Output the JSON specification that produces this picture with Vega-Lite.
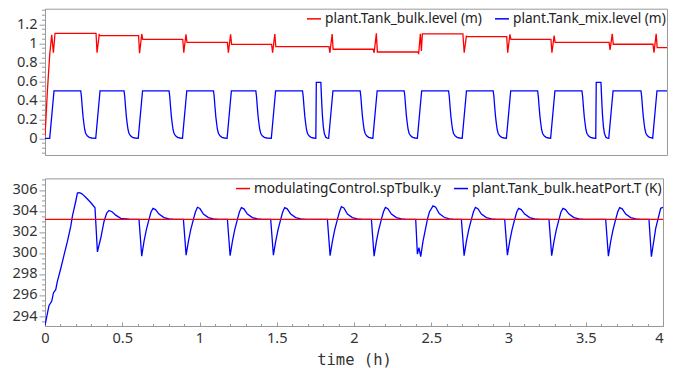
{
"$schema": "https://vega.github.io/schema/vega-lite/v6.json",
"padding": {"left": 11, "top": 0.7, "right": 0, "bottom": 0},
"spacing": 10.7,
"resolve": {"scale": {"color": "independent", "x": "independent", "y": "independent"}, "legend": {"color": "independent"}},
"config": {
  "font": "Noto Sans",
  "view": {"stroke": "#999999", "strokeWidth": 1},
  "axis": {"grid": false, "domainColor": "#999999", "tickColor": "#999999", "labelColor": "#333333", "labelFontSize": 14.6, "labelFont": "Noto Sans", "domainWidth": 1, "tickWidth": 1},
  "legend": {"padding": 0, "labelFont": "Noto Sans", "labelFontSize": 13.7, "labelColor": "#222222", "symbolType": "stroke", "symbolSize": 196, "symbolStrokeWidth": 1.5, "labelOffset": 3, "columnPadding": 10, "labelLimit": 400}
},
"datasets": {
  "bulk": [{"t":0,"v":0.02},{"t":0.0155,"v":0.5},{"t":0.0304,"v":0.88},{"t":0.0434,"v":1.09},{"t":0.0544,"v":0.9},{"t":0.0647,"v":1.105},
    {"t":0.3301,"v":1.105},{"t":0.3366,"v":0.9},{"t":0.3508,"v":1.09},{"t":0.3573,"v":1.08},
    {"t":0.6052,"v":1.08},{"t":0.6117,"v":0.895},{"t":0.6259,"v":1.098},{"t":0.6324,"v":1.042},
    {"t":0.8913,"v":1.042},{"t":0.8977,"v":0.9},{"t":0.912,"v":1.095},{"t":0.9184,"v":1.01},
    {"t":1.1799,"v":1.01},{"t":1.1864,"v":0.9},{"t":1.2006,"v":1.095},{"t":1.2071,"v":0.989},
    {"t":1.466,"v":0.989},{"t":1.4725,"v":0.9},{"t":1.4867,"v":1.098},{"t":1.4932,"v":0.964},
    {"t":1.8369,"v":0.964},{"t":1.8434,"v":0.9},{"t":1.8576,"v":1.098},{"t":1.8641,"v":0.937},
    {"t":2.123,"v":0.937},{"t":2.1294,"v":0.9},{"t":2.1437,"v":1.105},{"t":2.1502,"v":0.908},
    {"t":2.411,"v":0.908},{"t":2.4175,"v":0.895},{"t":2.4285,"v":1.1},{"t":2.435,"v":0.92},{"t":2.4414,"v":1.1},
    {"t":2.7036,"v":1.1},{"t":2.712,"v":0.9},{"t":2.7262,"v":1.075},{"t":2.7327,"v":1.07},
    {"t":2.9871,"v":1.07},{"t":2.9935,"v":0.9},{"t":3.0078,"v":1.095},{"t":3.0142,"v":1.042},
    {"t":3.2731,"v":1.042},{"t":3.2796,"v":0.9},{"t":3.2938,"v":1.08},{"t":3.3003,"v":1.01},
    {"t":3.6492,"v":1.01},{"t":3.6557,"v":0.93},{"t":3.6699,"v":1.1},{"t":3.6764,"v":0.99},
    {"t":3.9333,"v":0.99},{"t":3.9398,"v":0.9},{"t":3.954,"v":1.1},{"t":3.9605,"v":0.955},
    {"t":4.024,"v":0.955}],
  "mix": [{"t":0,"v":0},{"t":0.0304,"v":0},{"t":0.0583,"v":0.5},
    {"t":0.2311,"v":0.5},{"t":0.2356,"v":0.44},{"t":0.2408,"v":0.33},{"t":0.246,"v":0.23},{"t":0.2518,"v":0.15},{"t":0.257,"v":0.09},{"t":0.2635,"v":0.05},{"t":0.2732,"v":0.025},{"t":0.2861,"v":0.01},{"t":0.3023,"v":0.003},{"t":0.3282,"v":0},{"t":0.356,"v":0.5},
    {"t":0.5113,"v":0.5},{"t":0.5158,"v":0.44},{"t":0.521,"v":0.33},{"t":0.5262,"v":0.23},{"t":0.532,"v":0.15},{"t":0.5372,"v":0.09},{"t":0.5437,"v":0.05},{"t":0.5534,"v":0.025},{"t":0.5663,"v":0.01},{"t":0.5825,"v":0.003},{"t":0.6032,"v":0},{"t":0.6311,"v":0.5},
    {"t":0.8026,"v":0.5},{"t":0.8071,"v":0.44},{"t":0.8123,"v":0.33},{"t":0.8175,"v":0.23},{"t":0.8233,"v":0.15},{"t":0.8285,"v":0.09},{"t":0.835,"v":0.05},{"t":0.8447,"v":0.025},{"t":0.8576,"v":0.01},{"t":0.8738,"v":0.003},{"t":0.8893,"v":0},{"t":0.9172,"v":0.5},
    {"t":1.09,"v":0.5},{"t":1.0945,"v":0.44},{"t":1.0997,"v":0.33},{"t":1.1049,"v":0.23},{"t":1.1107,"v":0.15},{"t":1.1159,"v":0.09},{"t":1.1224,"v":0.05},{"t":1.1321,"v":0.025},{"t":1.145,"v":0.01},{"t":1.1612,"v":0.003},{"t":1.178,"v":0},{"t":1.2058,"v":0.5},
    {"t":1.3638,"v":0.5},{"t":1.3683,"v":0.44},{"t":1.3735,"v":0.33},{"t":1.3787,"v":0.23},{"t":1.3845,"v":0.15},{"t":1.3897,"v":0.09},{"t":1.3962,"v":0.05},{"t":1.4059,"v":0.025},{"t":1.4188,"v":0.01},{"t":1.435,"v":0.003},{"t":1.4641,"v":0},{"t":1.4919,"v":0.5},
    {"t":1.666,"v":0.5},{"t":1.6705,"v":0.44},{"t":1.6757,"v":0.33},{"t":1.6809,"v":0.23},{"t":1.6867,"v":0.15},{"t":1.6919,"v":0.09},{"t":1.6984,"v":0.05},{"t":1.7081,"v":0.025},{"t":1.721,"v":0.01},{"t":1.7372,"v":0.003},{"t":1.7521,"v":0},{"t":1.7553,"v":0.589},{"t":1.7845,"v":0.589},{"t":1.789,"v":0.42},{"t":1.7942,"v":0.25},{"t":1.8006,"v":0.12},{"t":1.8071,"v":0.05},{"t":1.8168,"v":0.01},{"t":1.8265,"v":0.002},{"t":1.835,"v":0},{"t":1.8628,"v":0.5},
    {"t":2.0388,"v":0.5},{"t":2.0433,"v":0.44},{"t":2.0485,"v":0.33},{"t":2.0537,"v":0.23},{"t":2.0595,"v":0.15},{"t":2.0647,"v":0.09},{"t":2.0712,"v":0.05},{"t":2.0809,"v":0.025},{"t":2.0938,"v":0.01},{"t":2.11,"v":0.003},{"t":2.121,"v":0},{"t":2.1489,"v":0.5},
    {"t":2.3236,"v":0.5},{"t":2.3281,"v":0.44},{"t":2.3333,"v":0.33},{"t":2.3385,"v":0.23},{"t":2.3443,"v":0.15},{"t":2.3495,"v":0.09},{"t":2.356,"v":0.05},{"t":2.3657,"v":0.025},{"t":2.3786,"v":0.01},{"t":2.3948,"v":0.003},{"t":2.4091,"v":0},{"t":2.4369,"v":0.5},
    {"t":2.611,"v":0.5},{"t":2.6155,"v":0.44},{"t":2.6207,"v":0.33},{"t":2.6259,"v":0.23},{"t":2.6317,"v":0.15},{"t":2.6369,"v":0.09},{"t":2.6434,"v":0.05},{"t":2.6531,"v":0.025},{"t":2.666,"v":0.01},{"t":2.6822,"v":0.003},{"t":2.699,"v":0},{"t":2.7269,"v":0.5},
    {"t":2.8997,"v":0.5},{"t":2.9042,"v":0.44},{"t":2.9094,"v":0.33},{"t":2.9146,"v":0.23},{"t":2.9204,"v":0.15},{"t":2.9256,"v":0.09},{"t":2.9321,"v":0.05},{"t":2.9418,"v":0.025},{"t":2.9547,"v":0.01},{"t":2.9709,"v":0.003},{"t":2.9851,"v":0},{"t":3.0129,"v":0.5},
    {"t":3.1871,"v":0.5},{"t":3.1916,"v":0.44},{"t":3.1968,"v":0.33},{"t":3.202,"v":0.23},{"t":3.2078,"v":0.15},{"t":3.213,"v":0.09},{"t":3.2195,"v":0.05},{"t":3.2292,"v":0.025},{"t":3.2421,"v":0.01},{"t":3.2583,"v":0.003},{"t":3.2712,"v":0},{"t":3.299,"v":0.5},
    {"t":3.4738,"v":0.5},{"t":3.4783,"v":0.44},{"t":3.4835,"v":0.33},{"t":3.4887,"v":0.23},{"t":3.4945,"v":0.15},{"t":3.4997,"v":0.09},{"t":3.5062,"v":0.05},{"t":3.5159,"v":0.025},{"t":3.5288,"v":0.01},{"t":3.545,"v":0.003},{"t":3.5631,"v":0},{"t":3.5663,"v":0.589},{"t":3.5968,"v":0.589},{"t":3.6013,"v":0.42},{"t":3.6065,"v":0.25},{"t":3.6129,"v":0.12},{"t":3.6194,"v":0.05},{"t":3.6291,"v":0.01},{"t":3.6388,"v":0.002},{"t":3.6473,"v":0},{"t":3.6751,"v":0.5},
    {"t":3.8557,"v":0.5},{"t":3.8602,"v":0.44},{"t":3.8654,"v":0.33},{"t":3.8706,"v":0.23},{"t":3.8764,"v":0.15},{"t":3.8816,"v":0.09},{"t":3.8881,"v":0.05},{"t":3.8978,"v":0.025},{"t":3.9107,"v":0.01},{"t":3.9269,"v":0.003},{"t":3.9314,"v":0},{"t":3.9592,"v":0.5},{"t":4.024,"v":0.5}],
  "temp": [{"t":0,"v":293.1},{"t":0.0155,"v":294.25},{"t":0.026,"v":295.0},{"t":0.0434,"v":295.4},{"t":0.0544,"v":296.2},{"t":0.0693,"v":296.5},{"t":0.08,"v":297.3},{"t":0.1016,"v":298.5},{"t":0.123,"v":299.8},{"t":0.145,"v":301.1},{"t":0.1663,"v":302.5},{"t":0.1773,"v":303.5},{"t":0.1987,"v":304.9},{"t":0.2097,"v":305.7},{"t":0.22,"v":305.75},{"t":0.231,"v":305.7},{"t":0.242,"v":305.6},{"t":0.2634,"v":305.3},{"t":0.2958,"v":304.8},{"t":0.3236,"v":304.3},{"t":0.3392,"v":300.1},{"t":0.3605,"v":301.4},{"t":0.3819,"v":303.0},{"t":0.3994,"v":303.8},{"t":0.4142,"v":304.05},{"t":0.4362,"v":303.9},{"t":0.4576,"v":303.6},{"t":0.49,"v":303.3},{"t":0.5437,"v":303.22},
    {"t":0.6084,"v":303.2},{"t":0.6259,"v":299.7},{"t":0.6408,"v":301.1},{"t":0.6557,"v":302.2},{"t":0.6731,"v":303.2},{"t":0.6861,"v":303.9},{"t":0.699,"v":304.25},{"t":0.7152,"v":304.13},{"t":0.7379,"v":303.7},{"t":0.7702,"v":303.37},{"t":0.8026,"v":303.25},{"t":0.835,"v":303.2},
    {"t":0.8958,"v":303.2},{"t":0.9133,"v":299.8},{"t":0.9282,"v":301.1},{"t":0.943,"v":302.2},{"t":0.9605,"v":303.2},{"t":0.9735,"v":303.9},{"t":0.9864,"v":304.35},{"t":1.0026,"v":304.23},{"t":1.0252,"v":303.7},{"t":1.0576,"v":303.37},{"t":1.09,"v":303.25},{"t":1.1223,"v":303.2},
    {"t":1.1806,"v":303.2},{"t":1.1981,"v":299.75},{"t":1.213,"v":301.1},{"t":1.2278,"v":302.2},{"t":1.2453,"v":303.2},{"t":1.2582,"v":303.9},{"t":1.2712,"v":304.32},{"t":1.2874,"v":304.2},{"t":1.31,"v":303.7},{"t":1.3424,"v":303.37},{"t":1.3747,"v":303.25},{"t":1.4071,"v":303.2},
    {"t":1.4608,"v":303.2},{"t":1.4783,"v":299.8},{"t":1.4932,"v":301.1},{"t":1.5081,"v":302.2},{"t":1.5255,"v":303.2},{"t":1.5385,"v":303.9},{"t":1.5514,"v":304.32},{"t":1.5676,"v":304.2},{"t":1.5903,"v":303.7},{"t":1.6226,"v":303.37},{"t":1.655,"v":303.25},{"t":1.6874,"v":303.2},
    {"t":1.8278,"v":303.2},{"t":1.8453,"v":299.75},{"t":1.8602,"v":301.1},{"t":1.8751,"v":302.2},{"t":1.8926,"v":303.2},{"t":1.9055,"v":303.9},{"t":1.9184,"v":304.4},{"t":1.9346,"v":304.28},{"t":1.9573,"v":303.7},{"t":1.9896,"v":303.37},{"t":2.022,"v":303.25},{"t":2.0544,"v":303.2},
    {"t":2.1126,"v":303.2},{"t":2.1301,"v":299.7},{"t":2.145,"v":301.1},{"t":2.1599,"v":302.2},{"t":2.1773,"v":303.2},{"t":2.1903,"v":303.9},{"t":2.2032,"v":304.34},{"t":2.2194,"v":304.22},{"t":2.2421,"v":303.7},{"t":2.2744,"v":303.37},{"t":2.3068,"v":303.25},{"t":2.3392,"v":303.2},
    {"t":2.3994,"v":303.2},{"t":2.4103,"v":299.9},{"t":2.4207,"v":300.5},{"t":2.4317,"v":299.65},{"t":2.4466,"v":301.1},{"t":2.4615,"v":302.2},{"t":2.4751,"v":303.2},{"t":2.488,"v":303.9},{"t":2.5113,"v":304.48},{"t":2.5288,"v":304.35},{"t":2.5515,"v":303.75},{"t":2.5838,"v":303.4},{"t":2.6162,"v":303.25},{"t":2.6485,"v":303.2},
    {"t":2.6951,"v":303.2},{"t":2.7126,"v":299.74},{"t":2.7275,"v":301.1},{"t":2.7424,"v":302.2},{"t":2.7599,"v":303.2},{"t":2.7728,"v":303.9},{"t":2.7857,"v":304.34},{"t":2.8019,"v":304.22},{"t":2.8246,"v":303.7},{"t":2.8569,"v":303.37},{"t":2.8893,"v":303.25},{"t":2.9217,"v":303.2},
    {"t":2.9754,"v":303.2},{"t":2.9929,"v":299.8},{"t":3.0078,"v":301.1},{"t":3.0227,"v":302.2},{"t":3.0401,"v":303.2},{"t":3.0531,"v":303.9},{"t":3.066,"v":304.25},{"t":3.0822,"v":304.13},{"t":3.1049,"v":303.7},{"t":3.1372,"v":303.37},{"t":3.1696,"v":303.25},{"t":3.2019,"v":303.2},
    {"t":3.2621,"v":303.2},{"t":3.2796,"v":299.75},{"t":3.2945,"v":301.1},{"t":3.3094,"v":302.2},{"t":3.3268,"v":303.2},{"t":3.3398,"v":303.9},{"t":3.3527,"v":304.25},{"t":3.3689,"v":304.13},{"t":3.3916,"v":303.7},{"t":3.4239,"v":303.37},{"t":3.4563,"v":303.25},{"t":3.4887,"v":303.2},
    {"t":3.6291,"v":303.2},{"t":3.6466,"v":299.7},{"t":3.6615,"v":301.1},{"t":3.6764,"v":302.2},{"t":3.6938,"v":303.2},{"t":3.7068,"v":303.9},{"t":3.7197,"v":304.32},{"t":3.7359,"v":304.2},{"t":3.7586,"v":303.7},{"t":3.7909,"v":303.37},{"t":3.8233,"v":303.25},{"t":3.8557,"v":303.2},
    {"t":3.9094,"v":303.2},{"t":3.9249,"v":299.65},{"t":3.9528,"v":302.35},{"t":3.9851,"v":304.25},{"t":4.0,"v":304.35}],
  "setp": [{"t":0,"v":303.2},{"t":4.0,"v":303.2}]
},
"vconcat": [
  {
    "width": 622, "height": 146.3,
    "encoding": {
      "x": {"field": "t", "type": "quantitative", "scale": {"domain": [0, 4.024], "nice": false, "zero": false}, "axis": null},
      "y": {"field": "v", "type": "quantitative", "scale": {"domain": [-0.176, 1.364], "nice": false, "zero": false},
        "axis": {"title": null, "values": [-0.15,-0.1,-0.05,0,0.05,0.1,0.15,0.2,0.25,0.3,0.35,0.4,0.45,0.5,0.55,0.6,0.65,0.7,0.75,0.8,0.85,0.9,0.95,1,1.05,1.1,1.15,1.2,1.25,1.3,1.35],
          "labelExpr": "abs(datum.value*5-round(datum.value*5))<0.001 ? format(datum.value,'~g') : ''",
          "tickSize": {"condition": {"test": "abs(datum.value*5-round(datum.value*5))<0.001", "value": 6}, "value": 3.5},
          "labelOverlap": false, "labelPadding": 2, "labelFlush": false}}
    },
    "layer": [
      {"data": {"name": "bulk"}, "mark": {"type": "line", "clip": true, "strokeWidth": 1.3},
       "encoding": {"color": {"datum": "plant.Tank_bulk.level (m)", "type": "nominal",
         "scale": {"domain": ["plant.Tank_bulk.level (m)", "plant.Tank_mix.level (m)"], "range": ["#ff0000", "#0000ff"]},
         "legend": {"orient": "top-right", "direction": "horizontal", "offset": 1.5, "title": null}}}},
      {"data": {"name": "mix"}, "mark": {"type": "line", "clip": true, "strokeWidth": 1.3}, "encoding": {"color": {"datum": "plant.Tank_mix.level (m)", "type": "nominal"}}}
    ]
  },
  {
    "width": 618, "height": 147.6,
    "encoding": {
      "x": {"field": "t", "type": "quantitative", "scale": {"domain": [0, 4], "nice": false, "zero": false},
        "axis": {"title": "time (h)", "titleFont": "DejaVu Sans Mono", "titleFontSize": 15.5, "titleFontWeight": "normal", "titleColor": "#333333", "titlePadding": 5,
          "values": [0,0.1,0.2,0.3,0.4,0.5,0.6,0.7,0.8,0.9,1,1.1,1.2,1.3,1.4,1.5,1.6,1.7,1.8,1.9,2,2.1,2.2,2.3,2.4,2.5,2.6,2.7,2.8,2.9,3,3.1,3.2,3.3,3.4,3.5,3.6,3.7,3.8,3.9,4],
          "labelExpr": "abs(datum.value*2-round(datum.value*2))<0.001 ? format(datum.value,'~g') : ''",
          "tickSize": {"condition": {"test": "abs(datum.value*2-round(datum.value*2))<0.001", "value": -4}, "value": -2.5},
          "labelAlign": {"condition": {"test": "datum.value > 3.999", "value": "right"}, "value": "center"},
          "labelPadding": 9, "labelOverlap": false, "labelFlush": false}},
      "y": {"field": "v", "type": "quantitative", "scale": {"domain": [293.05, 307.1], "nice": false, "zero": false},
        "axis": {"title": null, "values": [293.5,294,294.5,295,295.5,296,296.5,297,297.5,298,298.5,299,299.5,300,300.5,301,301.5,302,302.5,303,303.5,304,304.5,305,305.5,306,306.5,307],
          "labelExpr": "abs(datum.value/2-round(datum.value/2))<0.001 ? format(datum.value,'d') : ''",
          "tickSize": {"condition": {"test": "abs(datum.value/2-round(datum.value/2))<0.001", "value": 6}, "value": 3.5},
          "labelOverlap": false, "labelPadding": 2, "labelFlush": false}}
    },
    "layer": [
      {"data": {"name": "temp"}, "mark": {"type": "line", "clip": true, "strokeWidth": 1.3},
       "encoding": {"color": {"datum": "plant.Tank_bulk.heatPort.T (K)", "type": "nominal",
         "scale": {"domain": ["modulatingControl.spTbulk.y", "plant.Tank_bulk.heatPort.T (K)"], "range": ["#ff0000", "#0000ff"]},
         "legend": {"orient": "top-right", "direction": "horizontal", "offset": 1.5, "title": null}}}},
      {"data": {"name": "setp"}, "mark": {"type": "line", "clip": true, "strokeWidth": 1.3}, "encoding": {"color": {"datum": "modulatingControl.spTbulk.y", "type": "nominal"}}}
    ]
  }
]
}
